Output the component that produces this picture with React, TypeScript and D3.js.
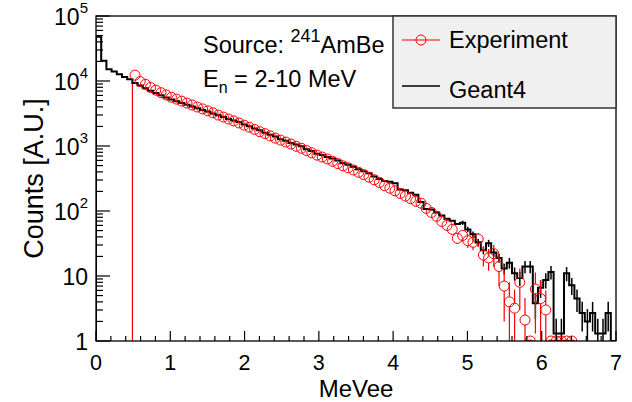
import React from "react";
import * as d3 from "d3";

// ---------------- data ----------------
const binWidth = 0.07; // MeVee per bin
const xTickLabels = ["0", "1", "2", "3", "4", "5", "6", "7"];
const yTickValues = [1, 10, 100, 1000, 10000, 100000];

// Geant4 simulated histogram (bins of 0.07 MeVee starting at 0)
const geant4 = [
  48000, 20400, 15100, 14000, 12700, 11500, 10600, 9330, 8510, 7760,
  7080, 6530, 6030, 5560, 5190, 4900, 4570, 4320, 4070, 3800,
  3590, 3390, 3160, 2970, 2790, 2600, 2470, 2330, 2140, 2010,
  1860, 1750, 1600, 1490, 1400, 1270, 1200, 1110, 1050, 990,
  891, 840, 760, 730, 676, 640, 600, 543, 515, 480,
  437, 410, 380, 339, 312, 290, 282, 268, 214, 209,
  191, 178, 138, 107, 105, 95, 85, 76, 71, 63,
  66, 52, 44, 33, 25, 32, 23, 19, 13, 16,
  11, 9.3, 14, 14, 3.8, 6.6, 8.7, 11.5, 1.3, 1.3,
  11, 7.2, 4.5, 2.7, 2, 2.7, 1.3, 1.3, 2.7, 0,
];
const geant4ErrFrom = 70;
const geant4Err = [
  5, 5, 4.5, 4, 3.5, 4, 3.5, 3, 2.5, 3,
  2.5, 2.3, 3, 3, 1.6, 2, 2.3, 2.7, 0.9, 0.9,
  2.7, 2.1, 1.7, 1.3, 1.1, 1.3, 0.9, 0.9, 1.3, 0,
];

// Experimental data, first bin index 7 (0.49 MeVee threshold)
const expFrom = 7;
const experiment = [
  12300, 9800, 8900, 7940, 7240, 6610, 6100, 5620, 5250, 4900,
  4570, 4270, 3980, 3720, 3470, 3240, 2990, 2790, 2600, 2430,
  2260, 2090, 1950, 1800, 1660, 1550, 1430, 1320, 1230, 1150,
  1070, 989, 923, 851, 785, 724, 676, 631, 582, 537,
  495, 462, 427, 394, 363, 331, 302, 275, 245, 224,
  204, 186, 170, 155, 141, 132, 110, 95, 83, 69,
  60, 52, 38, 42, 35, 33, 37, 21, 19, 22,
  14, 7, 4, 3.2, 8, 2.1, 0, 6.3, 4.5, 3,
  0, 0, 0, 0, 0,
];
const expErrFrom = 66;
const expErr = [
  7, 7, 7, 7, 8, 8, 8, 9, 7, 7,
  8, 7, 5, 4, 3, 5, 2.5, 0, 5, 4,
  3, 0, 0, 0, 0, 0,
];

const legendLabels = ["Experiment", "Geant4"];

// ---------------- layout ----------------
const W = 632;
const H = 402;
const L = 96, R = 616, T = 16, B = 341;
const FONT = "'Liberation Sans', Arial, Helvetica, sans-serif";

export default function App() {
  const x = d3.scaleLinear().domain([0, 7]).range([L, R]);
  const y = d3.scaleLog().domain([1, 1e5]).range([B, T]).clamp(true);
  const yv = (v: number) => y(Math.max(v, 1));

  // Geant4 step path
  let g4 = `M${x(0)},${B}`;
  geant4.forEach((v, i) => {
    g4 += `V${yv(v)}H${x((i + 1) * binWidth)}`;
  });
  g4 += `V${B}`;

  const r = 5;

  // ticks
  const xMajor = d3.range(0, 8).map((d) => d);
  const xMinor = d3.range(0, 7.0001, 0.2).filter((d) => Math.abs(d - Math.round(d)) > 1e-6);
  const yMinor: number[] = [];
  for (let e = 0; e < 5; e++) for (let m = 2; m <= 9; m++) yMinor.push(m * Math.pow(10, e));

  const expPts = experiment.map((v, k) => {
    const i = expFrom + k;
    const cx = x((i + 0.5) * binWidth);
    const ei = i - expErrFrom;
    const err = ei >= 0 && ei < expErr.length ? expErr[ei] : 0;
    return { i, v, cx, cy: yv(v), err };
  });

  const firstExp = expPts[0];

  return (
    <svg
      width={W}
      height={H}
      style={{ position: "absolute", left: 0, top: 0, background: "#fff" }}
      fontFamily={FONT}
    >
      <defs>
        <clipPath id="frame">
          <rect x={L} y={T} width={R - L} height={B - T} />
        </clipPath>
      </defs>
      <rect x={0} y={0} width={W} height={H} fill="#fff" />

      <g clipPath="url(#frame)">
        {/* threshold edge of experimental histogram */}
        <line
          x1={x(expFrom * binWidth)}
          x2={x(expFrom * binWidth)}
          y1={B}
          y2={firstExp.cy + r}
          stroke="#ff0000"
          strokeWidth={1.2}
        />
        {/* Geant4 */}
        <path d={g4} fill="none" stroke="#000" strokeWidth={2} strokeLinejoin="miter" />
        {geant4.map((v, i) => {
          const ei = i - geant4ErrFrom;
          if (ei < 0 || ei >= geant4Err.length) return null;
          const e = geant4Err[ei];
          if (!e || v <= 0) return null;
          const cx = x((i + 0.5) * binWidth);
          return (
            <line key={"ge" + i} x1={cx} x2={cx} y1={yv(v - e)} y2={yv(v + e)} stroke="#000" strokeWidth={1.5} />
          );
        })}
        {/* Experiment */}
        {expPts.map((p) => {
          const lo = x(p.i * binWidth);
          const hi = x((p.i + 1) * binWidth);
          const els: React.ReactNode[] = [];
          if (p.v <= 0) {
            els.push(<line key="h" x1={lo} x2={hi} y1={B - 0.5} y2={B - 0.5} stroke="#ff0000" strokeWidth={1.5} />);
          }
          if (p.err > 0) {
            const yTop = yv(p.v + p.err);
            const yBot = yv(p.v - p.err);
            if (yTop < p.cy - r) els.push(<line key="u" x1={p.cx} x2={p.cx} y1={yTop} y2={p.cy - r} stroke="#ff0000" strokeWidth={1.2} />);
            if (yBot > p.cy + r) els.push(<line key="d" x1={p.cx} x2={p.cx} y1={p.cy + r} y2={yBot} stroke="#ff0000" strokeWidth={1.2} />);
          }
          els.push(<circle key="c" cx={p.cx} cy={p.cy} r={r} fill="none" stroke="#ff0000" strokeWidth={1} />);
          return <g key={"e" + p.i}>{els}</g>;
        })}
      </g>

      {/* frame */}
      <rect x={L} y={T} width={R - L} height={B - T} fill="none" stroke="#000" strokeWidth={1.3} />

      {/* x ticks */}
      {xMajor.map((d) => (
        <line key={"xM" + d} x1={x(d)} x2={x(d)} y1={B} y2={B - 10} stroke="#000" strokeWidth={1.2} />
      ))}
      {xMinor.map((d, k) => (
        <line key={"xm" + k} x1={x(d)} x2={x(d)} y1={B} y2={B - 5} stroke="#000" strokeWidth={1.2} />
      ))}
      {xMajor.map((d, k) => (
        <text key={"xl" + d} x={x(d)} y={369.5} textAnchor="middle" fontSize={21.5} fill="#000">
          {xTickLabels[k]}
        </text>
      ))}

      {/* y ticks */}
      {yTickValues.map((v) => (
        <line key={"yM" + v} x1={L} x2={L + 14} y1={y(v)} y2={y(v)} stroke="#000" strokeWidth={1.2} />
      ))}
      {yMinor.map((v) => (
        <line key={"ym" + v} x1={L} x2={L + 7} y1={y(v)} y2={y(v)} stroke="#000" strokeWidth={1.2} />
      ))}
      {yTickValues.map((v) => {
        const e = Math.round(Math.log10(v));
        const ty = y(v) + 9;
        if (e === 0) return <text key={"yl" + v} x={88} y={ty} textAnchor="end" fontSize={23}>1</text>;
        if (e === 1) return <text key={"yl" + v} x={88} y={ty} textAnchor="end" fontSize={23}>10</text>;
        return (
          <text key={"yl" + v} x={88} y={ty} textAnchor="end" fontSize={23}>
            10
            <tspan fontSize={15} dy={-12}>{e}</tspan>
          </text>
        );
      })}

      {/* axis titles */}
      <text x={(L + R) / 2} y={396.5} textAnchor="middle" fontSize={24}>MeVee</text>
      <text
        transform={`translate(43,${(T + B) / 2}) rotate(-90)`}
        textAnchor="middle"
        fontSize={27}
      >
        Counts [A.U.]
      </text>

      {/* annotations */}
      <text x={203} y={53} fontSize={23.5}>
        Source: <tspan fontSize={18} dy={-11}>241</tspan>
        <tspan dy={11}>AmBe</tspan>
      </text>
      <text x={203} y={87} fontSize={23.5}>
        E<tspan fontSize={16} dy={6}>n</tspan>
        <tspan dy={-6}> = 2-10 MeV</tspan>
      </text>

      {/* legend */}
      <rect x={393} y={T} width={R - 393} height={92} fill="#f0f0f0" stroke="#333" strokeWidth={1.5} />
      <line x1={402} x2={440} y1={40} y2={40} stroke="#ff0000" strokeWidth={1.2} />
      <circle cx={421} cy={40} r={r} fill="none" stroke="#ff0000" strokeWidth={1} />
      <text x={449} y={48} fontSize={23.5}>{legendLabels[0]}</text>
      <line x1={402} x2={440} y1={86} y2={86} stroke="#000" strokeWidth={1.5} />
      <text x={449} y={98} fontSize={23.5}>{legendLabels[1]}</text>
    </svg>
  );
}
